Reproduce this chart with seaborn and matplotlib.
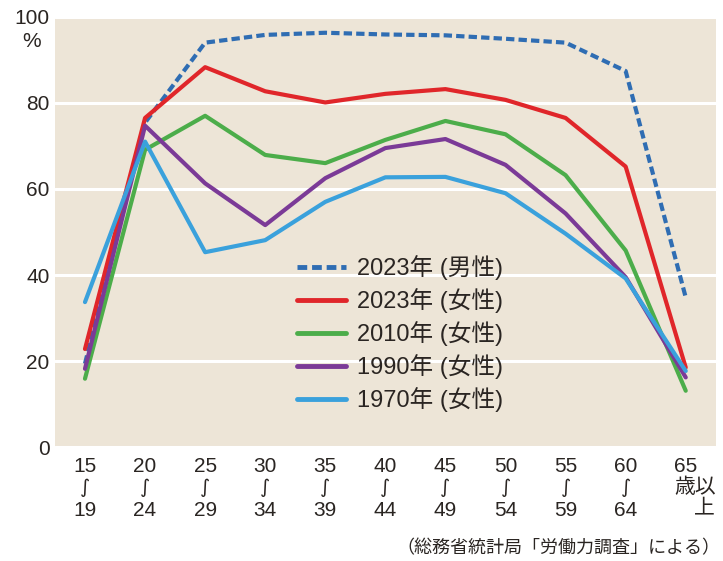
import matplotlib
matplotlib.use("Agg")
import matplotlib.pyplot as plt
import matplotlib.transforms as mtransforms
import pandas as pd
import seaborn as sns

# 年齢階級
age_top = ['15', '20', '25', '30', '35', '40', '45', '50', '55', '60', '65']
age_bottom = ['19', '24', '29', '34', '39', '44', '49', '54', '59', '64', '上']

# 労働力率 (%)
male_2023 = [19.4, 75.4, 94.0, 95.8, 96.3, 95.9, 95.7, 94.9, 94.0, 87.4, 34.8]
female_2023 = [22.8, 76.5, 88.3, 82.7, 80.1, 82.1, 83.2, 80.7, 76.5, 65.2, 18.5]
female_2010 = [15.9, 69.1, 77.0, 67.9, 66.0, 71.4, 75.8, 72.7, 63.2, 45.7, 13.1]
female_1990 = [18.2, 74.7, 61.3, 51.6, 62.5, 69.5, 71.6, 65.6, 54.3, 39.5, 16.2]
female_1970 = [33.7, 71.0, 45.3, 48.1, 57.0, 62.7, 62.8, 59.0, 49.6, 39.2, 17.7]

series_names = ['2023年 (男性)', '2023年 (女性)', '2010年 (女性)', '1990年 (女性)', '1970年 (女性)']
series_values = [male_2023, female_2023, female_2010, female_1990, female_1970]

rows = []
for name, vals in zip(series_names, series_values):
    for i, v in enumerate(vals):
        rows.append({'pos': i, 'rate': v, 'series': name})
df = pd.DataFrame(rows)

line_colors = ['#2f6db3', '#e0262a', '#4cad4a', '#7b3a97', '#3aa1dc']
colors = dict(zip(series_names, line_colors))
dashes = dict(zip(series_names, [(2, 1), '', '', '', '']))

sns.set_style('white')
plt.rcParams['font.family'] = ['Liberation Sans', 'Noto Sans CJK JP', 'DejaVu Sans']
text_color = '#2a2522'

fig = plt.figure(figsize=(7.23, 5.61), dpi=100)
ax = fig.add_axes([0.076, 0.203, 0.914, 0.767])
ax.set_facecolor('#ede5d7')

sns.lineplot(data=df, x='pos', y='rate', hue='series', style='series',
             hue_order=series_names, style_order=series_names,
             palette=colors, dashes=dashes, linewidth=3, ax=ax)

ax.set_xlim(-0.5, 10.5)
ax.set_ylim(0, 100)
ax.set_xlabel('')
ax.set_ylabel('')
for s in ax.spines.values():
    s.set_visible(False)

ax.set_yticks([0, 20, 40, 60, 80, 100])
ax.yaxis.grid(True, color='white', linewidth=2.2)
ax.set_axisbelow(True)
ax.tick_params(axis='y', length=0, pad=4, labelsize=15, labelcolor=text_color)
ax.text(-0.022, 0.942, '%', transform=ax.transAxes, ha='right', va='center',
        fontsize=15, color=text_color)

ax.set_xticks(range(len(age_top)))
ax.set_xticklabels([])
ax.tick_params(axis='x', direction='in', length=4, width=3, color='#222222')

# x軸ラベル (3段)
trans = mtransforms.blended_transform_factory(ax.transData, ax.transAxes)
for i, (t, b) in enumerate(zip(age_top, age_bottom)):
    ax.text(i, -0.044, t, transform=trans, ha='center', va='center',
            fontsize=15, color=text_color)
    if i < len(age_top) - 1:
        ax.text(i, -0.095, '∫', transform=trans, ha='center', va='center',
                fontsize=14, color=text_color, family='DejaVu Sans')
        ax.text(i, -0.147, b, transform=trans, ha='center', va='center',
                fontsize=15, color=text_color)
    else:
        ax.text(i - 0.19, -0.093, '歳以', transform=trans, ha='left', va='center',
                fontsize=15, color=text_color)
        ax.text(i + 0.48, -0.141, b, transform=trans, ha='right', va='center',
                fontsize=15, color=text_color)

leg = ax.legend(loc='upper left', bbox_to_anchor=(0.366, 0.446), frameon=False,
                fontsize=17, handlelength=2.1, handletextpad=0.45,
                labelspacing=0.34, borderpad=0, borderaxespad=0)
for txt in leg.get_texts():
    txt.set_color(text_color)
for line in leg.get_lines():
    line.set_linewidth(3.5)

fig.text(0.996, 0.023, '（総務省統計局「労働力調査」による）', ha='right', va='center',
         fontsize=13, color=text_color)

fig.savefig('out.png', dpi=100, facecolor='white')
